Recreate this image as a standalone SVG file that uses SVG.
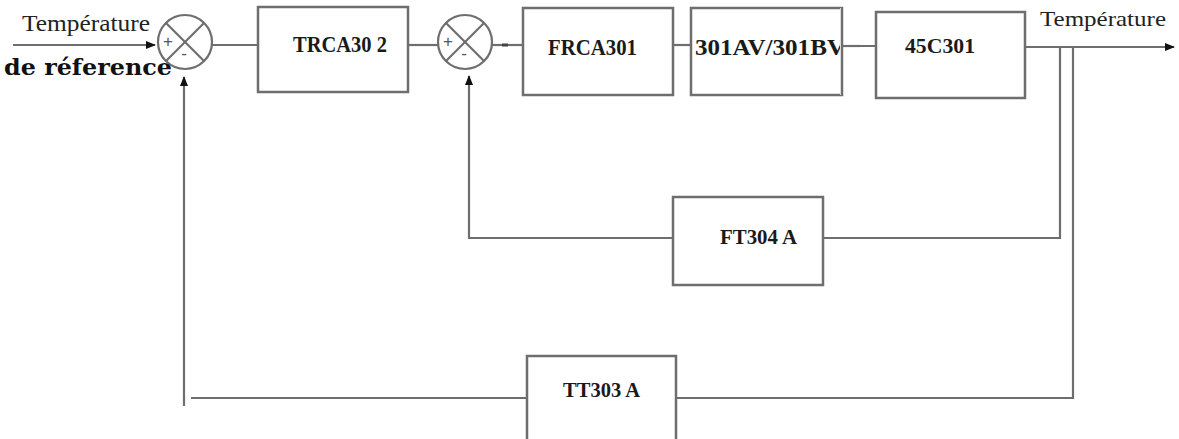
<svg xmlns="http://www.w3.org/2000/svg" width="1179" height="439" viewBox="0 0 1179 439">
<defs>
<marker id="arr" markerWidth="10" markerHeight="10" refX="9" refY="5" orient="auto" markerUnits="userSpaceOnUse">
<path d="M0,1 L10,5 L0,9 Z" fill="#111"/>
</marker>
<style>
.box{fill:#fff;stroke:#6e6e6e;stroke-width:2.5}
.sum{fill:#fff;stroke:#6e6e6e;stroke-width:2.2}
.w{stroke:#6e6e6e;stroke-width:2.2;fill:none}
.lbl{font-family:'Liberation Serif','Times New Roman',serif;font-weight:bold;fill:#1a1a1a}
.sig{font-family:'Liberation Sans',sans-serif;fill:#555;font-size:17px;text-anchor:middle}
.t{font-family:'Liberation Serif','Times New Roman',serif;fill:#222}
</style>
</defs>
<rect width="1179" height="439" fill="#fff"/>
<g id="connectors">
<line class="w" x1="13" y1="45" x2="155" y2="45" stroke="#333" marker-end="url(#arr)"/>
<line class="w" x1="212" y1="45" x2="258" y2="45"/>
<line class="w" x1="408" y1="45" x2="438" y2="45"/>
<line class="w" x1="492" y1="45" x2="523" y2="45"/>
<line x1="502" y1="45" x2="508" y2="45" stroke="#444" stroke-width="3"/>
<line class="w" x1="673" y1="45" x2="691" y2="45"/>
<line class="w" x1="842" y1="46" x2="876" y2="46"/>
<line class="w" x1="1025" y1="47" x2="1174" y2="47" marker-end="url(#arr)"/>
<polyline class="w" points="1060,47 1060,238 823,238"/>
<polyline class="w" points="673,238 469,238 469,76" marker-end="url(#arr)"/>
<polyline class="w" points="1073,47 1073,398 676,398"/>
<line class="w" x1="527" y1="398" x2="191" y2="398"/>
<line class="w" x1="184" y1="406" x2="184" y2="77" marker-end="url(#arr)"/>
</g>
<g id="sum1">
<circle class="sum" cx="185" cy="42" r="27"/>
<line class="w" x1="166" y1="23" x2="204" y2="61"/>
<line class="w" x1="204" y1="23" x2="166" y2="61"/>
<text class="sig" x="168" y="47">+</text>
<text class="sig" x="184" y="59">-</text>
</g>
<g id="sum2">
<circle class="sum" cx="465" cy="42" r="27"/>
<line class="w" x1="446" y1="23" x2="484" y2="61"/>
<line class="w" x1="484" y1="23" x2="446" y2="61"/>
<text class="sig" x="448" y="47">+</text>
<text class="sig" x="464" y="59">-</text>
</g>
<g id="input-label">
<text class="t" font-family="Liberation Serif, serif" x="22" y="31" font-size="23" textLength="128" lengthAdjust="spacingAndGlyphs">Température</text>
<text x="4" y="75" font-family="DejaVu Serif, serif" font-weight="bold" font-size="22" fill="#111" textLength="168" lengthAdjust="spacingAndGlyphs">de réference</text>
</g>
<g id="TRCA302">
<rect class="box" x="258" y="7" width="150" height="85"/>
<text class="lbl" font-family="Liberation Serif, serif" x="293" y="52" font-size="24" textLength="94" lengthAdjust="spacingAndGlyphs">TRCA30 2</text>
</g>
<g id="FRCA301">
<rect class="box" x="523" y="8" width="150" height="87"/>
<text class="lbl" font-family="Liberation Serif, serif" x="548" y="55" font-size="23" textLength="89" lengthAdjust="spacingAndGlyphs">FRCA301</text>
</g>
<g id="V301AV">
<rect class="box" x="691" y="8" width="151" height="87"/>
<text class="lbl" font-family="Liberation Serif, serif" x="695" y="55" font-size="23" textLength="150" lengthAdjust="spacingAndGlyphs">301AV/301BV</text>
<rect x="840" y="8" width="20" height="87" fill="#fff"/>
<line class="w" x1="842" y1="46" x2="860" y2="46"/>
<line x1="842" y1="8" x2="842" y2="95" stroke="#6e6e6e" stroke-width="2.5"/>
</g>
<g id="C45C301">
<rect class="box" x="876" y="12" width="149" height="86"/>
<text class="lbl" font-family="Liberation Serif, serif" x="905" y="53" font-size="20" textLength="70" lengthAdjust="spacingAndGlyphs">45C301</text>
</g>
<g id="output-label">
<text class="t" font-family="Liberation Serif, serif" x="1040" y="26" font-size="21" textLength="126" lengthAdjust="spacingAndGlyphs">Température</text>
</g>
<g id="FT304A">
<rect class="box" x="673" y="197" width="150" height="88"/>
<text class="lbl" font-family="Liberation Serif, serif" x="720" y="244" font-size="21" textLength="77" lengthAdjust="spacingAndGlyphs">FT304 A</text>
</g>
<g id="TT303A">
<rect class="box" x="527" y="356" width="149" height="86"/>
<text class="lbl" font-family="Liberation Serif, serif" x="563" y="397" font-size="21" textLength="77" lengthAdjust="spacingAndGlyphs">TT303 A</text>
</g>
</svg>
